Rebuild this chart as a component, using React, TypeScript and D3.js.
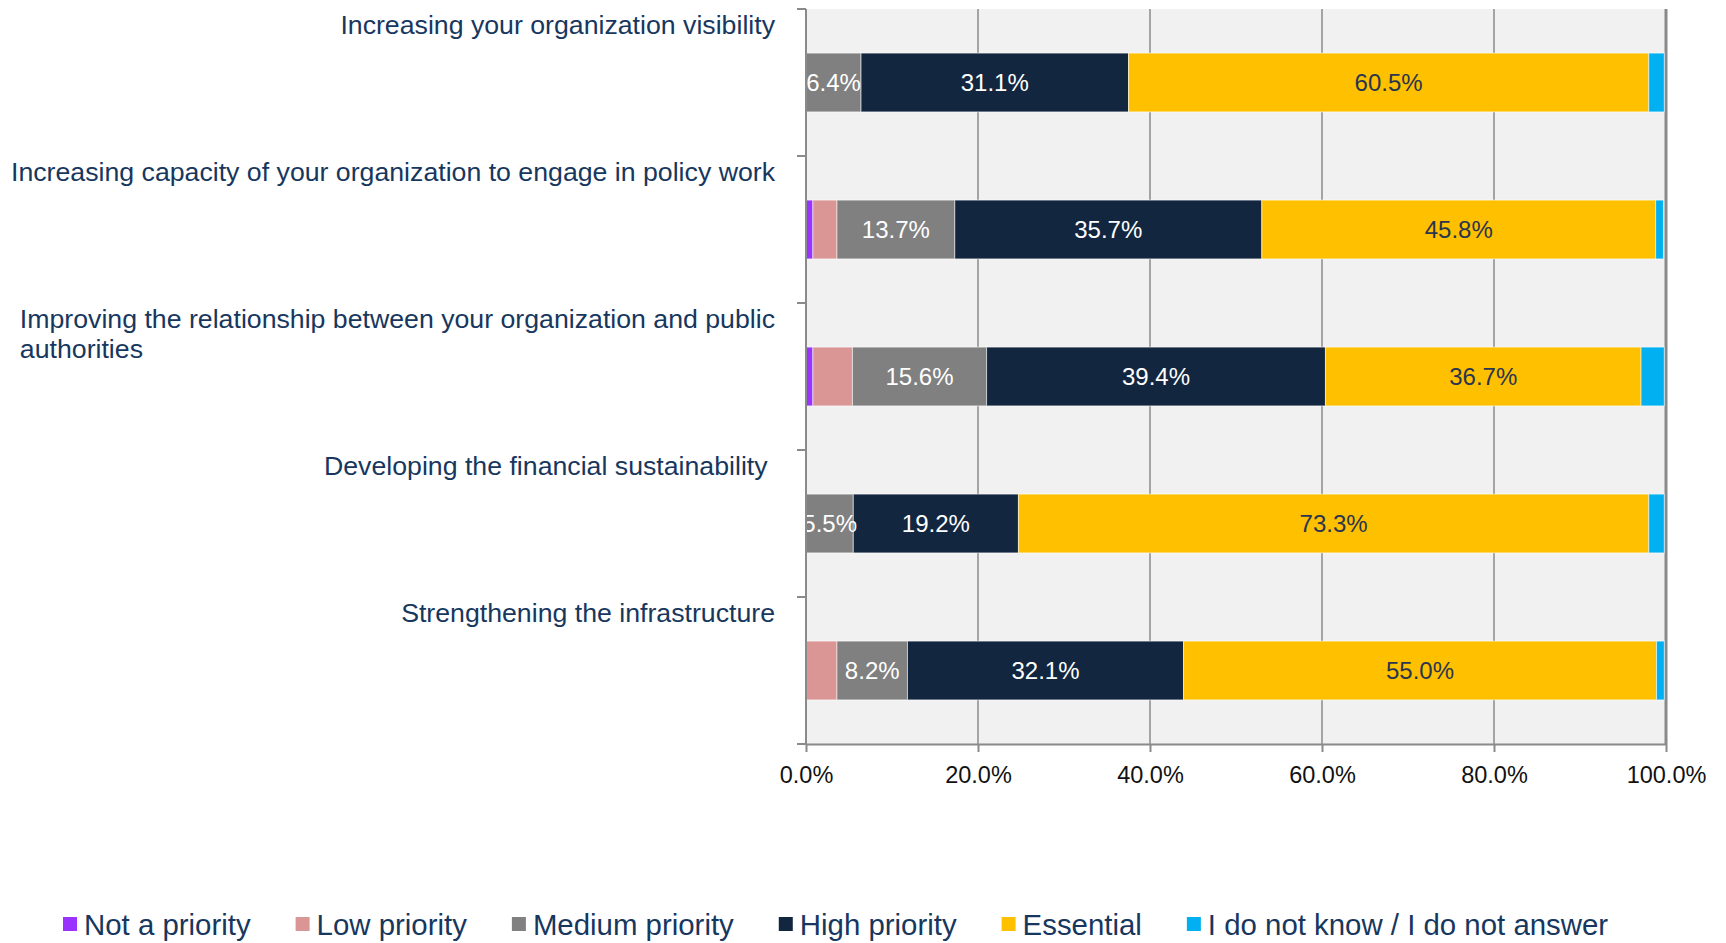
import { useEffect, useRef } from "react";
import * as d3 from "d3";

const categories = [
  "Increasing your organization visibility",
  "Increasing capacity of your organization to engage in policy work",
  "Improving the relationship between your organization and public authorities",
  "Developing the financial sustainability ",
  "Strengthening the infrastructure",
];

const seriesNames = [
  "Not a priority",
  "Low priority",
  "Medium priority",
  "High priority",
  "Essential",
  "I do not know / I do not answer",
];

// percent values per category
const notPriority = [0, 0.8, 0.8, 0, 0];
const lowPriority = [0, 2.8, 4.6, 0, 3.6];
const mediumPriority = [6.4, 13.7, 15.6, 5.5, 8.2];
const highPriority = [31.1, 35.7, 39.4, 19.2, 32.1];
const essential = [60.5, 45.8, 36.7, 73.3, 55.0];
const dontKnow = [1.8, 0.9, 2.7, 1.8, 0.9];

const xTicks = [0, 20, 40, 60, 80, 100];
const labeledSeries = ["Medium priority", "High priority", "Essential"];

const colors = ["#9933ff", "#d99694", "#808080", "#12263f", "#ffc000", "#00b0f0"];
const labelColors = {
  "Medium priority": "#ffffff",
  "High priority": "#ffffff",
  Essential: "#2a3550",
};

const FONT = "'Liberation Sans', Arial, sans-serif";
const TEXT_BLUE = "#17375e";
const AXIS_GRAY = "#8a8a8a";

const App = () => {
  const svgRef = useRef<SVGSVGElement>(null);

  useEffect(() => {
    document.body.style.margin = "0";
    document.body.style.overflow = "hidden";

    const W = 1726;
    const H = 943;
    const margin = { top: 9, right: 60, bottom: 199, left: 806 };

    const svg = d3
      .select(svgRef.current)
      .attr("width", W)
      .attr("height", H)
      .style("display", "block")
      .style("font-family", FONT);
    svg.selectAll("*").remove();

    const x = d3.scaleLinear().domain([0, 100]).range([margin.left, W - margin.right]);
    const yBand = d3
      .scaleBand()
      .domain(categories)
      .range([margin.top, H - margin.bottom]);
    const yBar = d3
      .scaleBand()
      .domain(categories)
      .range([margin.top, H - margin.bottom])
      .paddingInner(0.6)
      .paddingOuter(0.3);

    const plotTop = margin.top;
    const plotBottom = H - margin.bottom;

    // plot background
    svg
      .append("rect")
      .attr("x", x(0))
      .attr("y", plotTop)
      .attr("width", x(100) - x(0))
      .attr("height", plotBottom - plotTop)
      .attr("fill", "#f1f1f1");

    // vertical gridlines
    svg
      .append("g")
      .selectAll("line")
      .data(xTicks.filter((d) => d > 0))
      .join("line")
      .attr("x1", (d) => x(d))
      .attr("x2", (d) => x(d))
      .attr("y1", plotTop)
      .attr("y2", plotBottom)
      .attr("stroke", AXIS_GRAY)
      .attr("stroke-width", (d) => (d === 100 ? 3 : 1.5));

    // clip for labels that run past the axis
    svg
      .append("defs")
      .append("clipPath")
      .attr("id", "plot-clip")
      .append("rect")
      .attr("x", x(0))
      .attr("y", plotTop)
      .attr("width", x(100) - x(0))
      .attr("height", plotBottom - plotTop);

    // stacked bars
    const seriesValues = [notPriority, lowPriority, mediumPriority, highPriority, essential, dontKnow];
    const rows = categories.map((c, i) => {
      const row: any = { category: c };
      seriesNames.forEach((s, j) => (row[s] = seriesValues[j][i]));
      return row;
    });
    const stacked = d3.stack<any>().keys(seriesNames)(rows);

    const layers = svg
      .append("g")
      .selectAll("g")
      .data(stacked)
      .join("g")
      .attr("fill", (_, i) => colors[i]);

    layers
      .selectAll("rect")
      .data((d) => d.filter((p) => p[1] - p[0] > 0))
      .join("rect")
      .attr("x", (p) => x(p[0]))
      .attr("y", (p) => yBar(p.data.category)!)
      .attr("width", (p) => x(p[1]) - x(p[0]))
      .attr("height", yBar.bandwidth())
      .attr("stroke", "rgba(255,255,255,0.55)")
      .attr("stroke-width", 1);

    // value labels
    const labelG = svg.append("g").attr("clip-path", "url(#plot-clip)");
    stacked
      .filter((s) => labeledSeries.includes(s.key))
      .forEach((s) => {
        labelG
          .append("g")
          .selectAll("text")
          .data(s)
          .join("text")
          .attr("x", (p) => (x(p[0]) + x(p[1])) / 2)
          .attr("y", (p) => yBar(p.data.category)! + yBar.bandwidth() / 2)
          .attr("dy", "0.36em")
          .attr("text-anchor", "middle")
          .attr("font-size", 24)
          .attr("fill", (labelColors as any)[s.key])
          .text((p) => (p[1] - p[0]).toFixed(1) + "%");
      });

    // y axis line and band ticks
    const yAxis = svg.append("g");
    yAxis
      .append("line")
      .attr("x1", x(0))
      .attr("x2", x(0))
      .attr("y1", plotTop)
      .attr("y2", plotBottom)
      .attr("stroke", AXIS_GRAY)
      .attr("stroke-width", 2);
    yAxis
      .selectAll(".ytick")
      .data([...categories.map((c) => yBand(c)!), plotBottom])
      .join("line")
      .attr("class", "ytick")
      .attr("x1", x(0) - 9)
      .attr("x2", x(0))
      .attr("y1", (d) => d)
      .attr("y2", (d) => d)
      .attr("stroke", AXIS_GRAY)
      .attr("stroke-width", 2);

    // category labels, wrapped to fit left margin
    const labelRight = 775;
    const maxWidth = 772;
    const catFont = 26.7;
    categories.forEach((c) => {
      const g = svg.append("g");
      const words = c.split(" ");
      const probe = g
        .append("text")
        .attr("font-size", catFont)
        .style("white-space", "pre");
      const lines: string[] = [];
      let line = "";
      words.forEach((w, k) => {
        const test = line ? line + " " + w : w;
        probe.text(test);
        if (line && probe.node()!.getComputedTextLength() > maxWidth) {
          lines.push(line);
          line = w;
        } else {
          line = test;
        }
        if (k === words.length - 1) lines.push(line);
      });
      probe.remove();

      const texts = g
        .selectAll("text")
        .data(lines)
        .join("text")
        .attr("font-size", catFont)
        .attr("fill", TEXT_BLUE)
        .style("white-space", "pre")
        .attr("y", (_, k) => yBand(c)! + 16 + k * 30)
        .attr("dy", "0.35em")
        .text((d) => d);
      const widths = texts.nodes().map((n) => (n as SVGTextElement).getComputedTextLength());
      const blockLeft = labelRight - d3.max(widths)!;
      texts.attr("x", blockLeft);
    });

    // x axis
    const xAxis = svg
      .append("g")
      .attr("transform", `translate(0, ${plotBottom})`)
      .call(
        d3
          .axisBottom(x)
          .tickValues(xTicks)
          .tickSize(8)
          .tickSizeOuter(0)
          .tickPadding(14)
          .tickFormat((d) => (d as number).toFixed(1) + "%")
      );
    xAxis.select(".domain").attr("stroke", AXIS_GRAY).attr("stroke-width", 2);
    xAxis.selectAll(".tick line").attr("stroke", AXIS_GRAY).attr("stroke-width", 2);
    xAxis
      .selectAll(".tick text")
      .attr("font-size", 23.5)
      .attr("font-family", FONT)
      .attr("fill", "#111");

    // legend
    const legend = svg.append("g").attr("transform", `translate(0, 924)`);
    let cursor = 63;
    seriesNames.forEach((name, i) => {
      legend
        .append("rect")
        .attr("x", cursor)
        .attr("y", -7)
        .attr("width", 14)
        .attr("height", 14)
        .attr("fill", colors[i]);
      const t = legend
        .append("text")
        .attr("x", cursor + 21)
        .attr("y", 0)
        .attr("dy", "0.36em")
        .attr("font-size", 29.4)
        .attr("fill", TEXT_BLUE)
        .text(name);
      cursor += 21 + t.node()!.getComputedTextLength() + 45;
    });
  }, []);

  return <svg ref={svgRef}></svg>;
};

export default App;
